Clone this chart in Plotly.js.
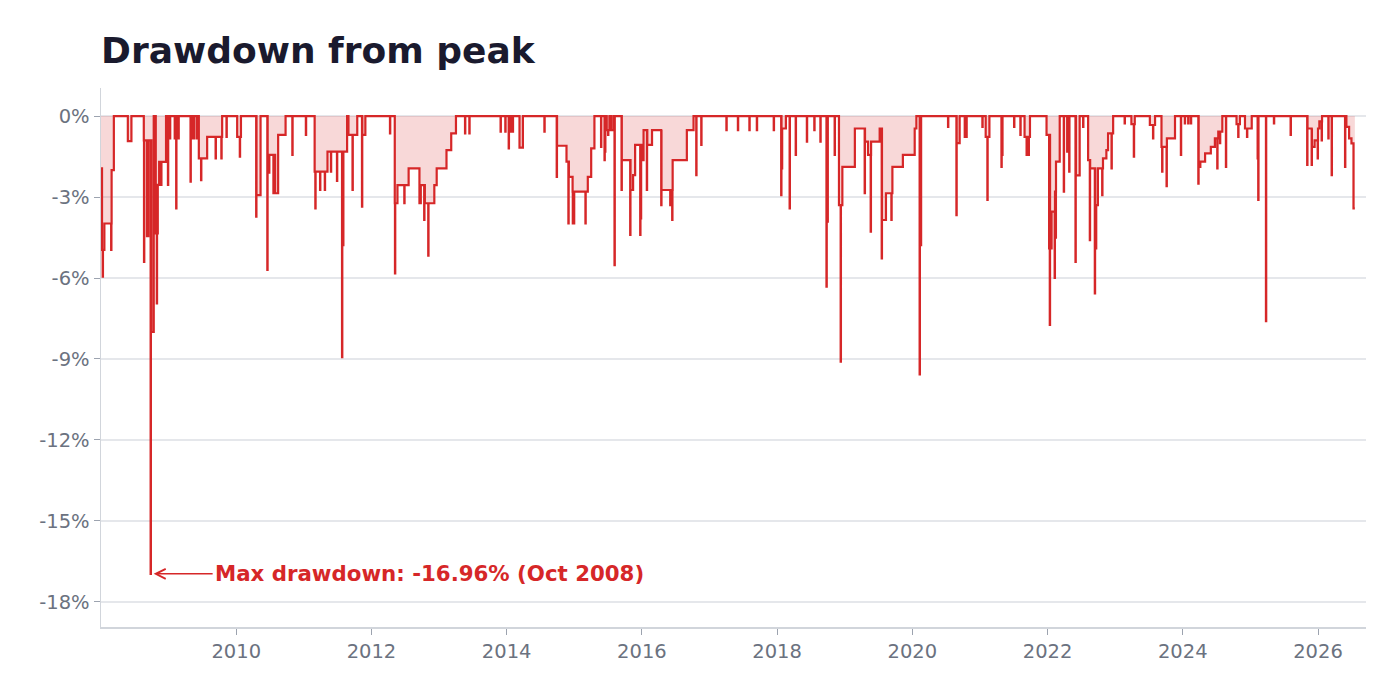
<!DOCTYPE html>
<html>
<head>
<meta charset="utf-8">
<script src="https://cdn.plot.ly/plotly-3.0.1.min.js"></script>
<style>
  html, body { margin: 0; padding: 0; background: #fff; }
  #chart { width: 1400px; height: 695px; }
</style>
</head>
<body>
<div id="chart"></div>
<script>
// drawdown in %, time in decimal years
// levels: the drawdown steps to v at time t and stays there
const levels = [
  [2008.000,-1.94],[2008.015,-4.96],[2008.05,-3.98],[2008.157,-2.0],[2008.19,0],
  [2008.397,-0.93],[2008.45,0],
  [2008.633,-0.9],[2008.68,-4.45],[2008.70,-0.9],[2008.745,-8.0],[2008.78,0],
  [2008.81,-4.35],[2008.84,-2.55],[2008.86,-1.7],[2008.962,0],
  [2009.09,-0.83],[2009.105,0],[2009.12,-0.83],[2009.15,0],
  [2009.35,-0.83],[2009.375,0],[2009.447,-1.57],[2009.57,-0.77],[2009.792,0],
  [2010.014,-0.77],[2010.07,0],
  [2010.30,-2.93],[2010.36,0],[2010.465,-2.1],[2010.49,-1.44],[2010.575,-2.86],[2010.62,-0.7],[2010.73,0],
  [2011.16,-2.06],[2011.35,-1.32],[2011.57,-4.78],[2011.585,-1.32],[2011.64,0],[2011.66,-0.7],
  [2011.79,0],[2011.865,-0.7],[2011.91,0],
  [2012.345,-3.23],[2012.385,-2.56],[2012.55,-1.94],[2012.71,-3.23],[2012.73,-2.56],[2012.79,-3.23],
  [2012.93,-2.56],[2012.965,-1.94],[2013.11,-1.26],[2013.18,-0.64],[2013.25,0],
  [2014.19,-1.17],[2014.24,0],
  [2014.745,-1.1],[2014.885,-1.69],[2014.92,-2.25],[2014.975,-2.8],[2015.2,-2.25],[2015.25,-1.2],[2015.298,0],
  [2015.48,-0.52],[2015.52,0],[2015.545,-0.52],[2015.58,0],
  [2015.70,-1.63],[2015.832,-2.74],[2015.87,-2.19],[2015.90,-1.07],[2016.005,-1.63],[2016.025,-0.52],
  [2016.08,-1.07],[2016.15,-0.52],[2016.29,-2.74],[2016.455,-1.63],[2016.665,-0.52],[2016.764,0],
  [2018.065,-1.94],[2018.075,-0.46],[2018.13,0],
  [2018.735,-3.91],[2018.75,0],[2018.915,-3.3],[2018.942,-3.3],[2018.965,-1.88],
  [2019.15,-0.46],[2019.30,-0.95],[2019.345,-1.44],[2019.39,-0.95],[2019.517,-0.46],
  [2019.55,-3.85],[2019.61,-2.86],[2019.705,-1.88],[2019.86,-1.44],[2020.035,-0.46],[2020.06,0],
  [2020.112,-4.78],[2020.13,0],
  [2020.655,-1.0],[2020.70,0],
  [2021.085,-0.77],[2021.14,0],[2021.66,-0.77],[2021.74,0],
  [2021.985,-0.7],[2022.035,-4.9],[2022.06,-3.54],[2022.11,-2.8],[2022.125,-1.69],[2022.18,0],
  [2022.42,-2.2],[2022.475,0],
  [2022.60,-1.63],[2022.63,-1.94],[2022.705,-4.9],[2022.72,-3.3],[2022.745,-1.94],[2022.82,-1.57],
  [2022.87,-1.26],[2022.895,-0.64],[2022.97,0],
  [2023.24,-0.3],[2023.29,0],[2023.513,-0.33],[2023.59,0],
  [2023.685,-1.14],[2023.765,-0.83],[2023.885,0],
  [2024.235,-1.88],[2024.26,-1.69],[2024.33,-1.38],[2024.415,-1.14],[2024.475,-0.83],[2024.525,-0.58],[2024.585,0],
  [2024.795,-0.3],[2024.845,0],[2024.92,-0.46],[2025.02,0],
  [2025.845,-0.46],[2025.91,-1.14],[2025.95,-0.9],[2026.0,-0.46],[2026.02,-0.2],[2026.06,0],
  [2026.42,-0.4],[2026.46,-0.83],[2026.495,-1.01],[2026.525,-3.42],[2026.545,-3.42]
];

// dips: one-day drops to v at time t, back to the running level right after
const dips = [
  [2008.025,-5.95],[2008.035,-4.96],[2008.15,-4.96],
  [2008.636,-5.4],[2008.734,-16.96],[2008.825,-6.94],[2008.89,-2.55],
  [2008.975,-0.83],[2008.99,-2.55],[2009.005,-0.83],[2009.02,-0.83],
  [2009.112,-3.42],[2009.324,-2.43],[2009.413,-0.83],[2009.48,-2.37],
  [2009.695,-1.57],[2009.78,-1.57],[2009.856,-0.77],[2010.053,-1.5],
  [2010.295,-3.73],[2010.32,-2.93],[2010.46,-5.7],[2010.55,-2.86],[2010.83,-1.44],[2011.03,-0.7],
  [2011.17,-3.42],[2011.24,-2.74],[2011.31,-2.74],[2011.40,-2.06],[2011.49,-2.4],
  [2011.565,-8.93],[2011.72,-2.74],[2011.86,-3.36],
  [2012.274,-0.64],[2012.348,-5.83],[2012.486,-3.23],[2012.78,-3.85],[2012.84,-5.17],[2012.88,-3.23],
  [2013.384,-0.64],[2013.448,-0.64],
  [2013.91,-0.58],[2013.98,-0.58],[2014.03,-1.2],[2014.065,-0.58],[2014.09,-0.58],[2014.558,-0.58],
  [2014.74,-2.25],[2014.913,-3.98],[2014.978,-3.98],[2014.995,-3.98],[2015.165,-3.98],
  [2015.396,-1.14],[2015.447,-1.63],[2015.456,-1.32],[2015.50,-0.7],[2015.595,-5.52],
  [2015.699,-2.74],[2015.827,-4.4],[2015.975,-4.4],[2015.985,-3.79],[2016.073,-2.74],
  [2016.286,-3.3],[2016.419,-3.3],[2016.448,-3.85],[2016.804,-2.19],[2016.878,-1.07],
  [2017.25,-0.52],[2017.42,-0.52],[2017.59,-0.52],[2017.70,-0.52],[2017.95,-0.52],
  [2018.06,-2.93],[2018.185,-3.42],[2018.275,-1.44],[2018.44,-0.95],[2018.55,-0.52],[2018.64,-0.95],
  [2018.73,-6.32],[2018.851,-1.44],[2018.94,-9.1],
  [2019.295,-2.86],[2019.384,-4.28],[2019.547,-5.27],[2019.69,-3.85],
  [2020.108,-9.57],[2020.528,-0.4],[2020.652,-3.67],[2020.775,-0.77],[2020.80,-0.77],
  [2021.036,-0.4],[2021.11,-3.11],[2021.318,-1.88],[2021.33,-1.44],[2021.505,-0.4],[2021.598,-0.7],
  [2021.69,-1.44],[2021.72,-1.44],
  [2022.023,-4.9],[2022.033,-7.74],[2022.105,-6.0],[2022.12,-4.5],
  [2022.24,-2.8],[2022.29,-1.32],[2022.32,-2.06],[2022.413,-5.4],[2022.526,-0.4],
  [2022.625,-4.6],[2022.699,-6.57],[2022.808,-2.93],[2022.946,-1.94],
  [2023.14,-0.27],[2023.276,-1.5],[2023.56,-0.83],[2023.695,-2.06],[2023.76,-2.6],
  [2023.972,-1.44],[2024.03,-0.27],[2024.08,-0.27],[2024.12,-0.27],
  [2024.23,-2.5],[2024.51,-1.94],[2024.55,-1.0],[2024.638,-1.88],
  [2024.82,-0.77],[2024.95,-0.77],[2025.107,-1.57],[2025.116,-3.11],[2025.23,-7.6],
  [2025.348,-0.27],[2025.595,-0.7],
  [2025.84,-1.81],[2025.906,-1.81],[2025.995,-1.57],[2026.054,-0.9],
  [2026.153,-0.83],[2026.202,-2.19],[2026.40,-1.88]
];

const yTickVals = [0, -3, -6, -9, -12, -15, -18];
const yTickText = ['0%', '-3%', '-6%', '-9%', '-12%', '-15%', '-18%'];
const xTickVals = [2010, 2012, 2014, 2016, 2018, 2020, 2022, 2024, 2026];
const xTickText = ['2010', '2012', '2014', '2016', '2018', '2020', '2022', '2024', '2026'];

const maxDD = { t: 2008.734, v: -16.96, label: 'Max drawdown: -16.96% (Oct 2008)' };

// merge steps and dips into one stepped series
var events = [];
for (var i = 0; i < levels.length; i++) events.push({t: levels[i][0], v: levels[i][1], dip: false});
for (var i = 0; i < dips.length; i++) events.push({t: dips[i][0], v: dips[i][1], dip: true});
events.sort(function(a, b){ return a.t - b.t; });

var xs = [], ys = [];
var cur = 0;
for (var i = 0; i < events.length; i++) {
  var e = events[i];
  if (e.dip) {
    xs.push(e.t); ys.push(e.v);
    xs.push(e.t + 0.004); ys.push(cur);
  } else {
    cur = e.v;
    xs.push(e.t); ys.push(e.v);
  }
}

var red = '#d62728';
var data = [{
  type: 'scatter',
  mode: 'lines',
  x: xs,
  y: ys,
  line: { color: red, width: 2.2, shape: 'hv' },
  fill: 'tozeroy',
  fillcolor: 'rgba(214,39,40,0.18)',
  hoverinfo: 'skip'
}];

var layout = {
  width: 1400,
  height: 695,
  margin: { l: 101, r: 34, t: 88, b: 68 },
  paper_bgcolor: '#fff',
  plot_bgcolor: '#fff',
  font: { family: 'DejaVu Sans, sans-serif', color: '#6b7280' },
  showlegend: false,
  title: {
    text: 'Drawdown from peak',
    font: { family: 'DejaVu Sans, sans-serif', size: 36, color: '#1a1a2e', weight: 700 },
    x: 0, xref: 'paper', xanchor: 'left',
    y: 0.928, yref: 'container', yanchor: 'middle'
  },
  xaxis: {
    type: 'linear',
    range: [2008.0, 2026.71],
    tickvals: xTickVals,
    ticktext: xTickText,
    showgrid: false,
    zeroline: false,
    showline: true,
    linecolor: '#d1d5db',
    linewidth: 1.5,
    ticks: 'outside',
    ticklen: 6,
    tickcolor: '#9ca3af',
    tickfont: { size: 19.5, color: '#6b7280' }
  },
  yaxis: {
    range: [-18.93, 1.04],
    tickvals: yTickVals,
    ticktext: yTickText,
    showgrid: true,
    gridcolor: '#e5e7eb',
    gridwidth: 1.2,
    zeroline: false,
    showline: true,
    linecolor: '#d1d5db',
    linewidth: 1.5,
    ticks: 'outside',
    ticklen: 6,
    tickcolor: '#9ca3af',
    tickfont: { size: 19.5, color: '#6b7280' }
  },
  annotations: [{
    x: maxDD.t,
    y: maxDD.v,
    xref: 'x',
    yref: 'y',
    text: '<b>' + maxDD.label + '</b>',
    showarrow: true,
    arrowhead: 5,
    arrowsize: 1.3,
    arrowwidth: 1.5,
    arrowcolor: red,
    ax: 62,
    ay: 0,
    xanchor: 'left',
    standoff: 3,
    font: { family: 'DejaVu Sans, sans-serif', size: 21.3, color: red }
  }]
};

Plotly.newPlot('chart', data, layout, { displayModeBar: false, staticPlot: true });
</script>
</body>
</html>
